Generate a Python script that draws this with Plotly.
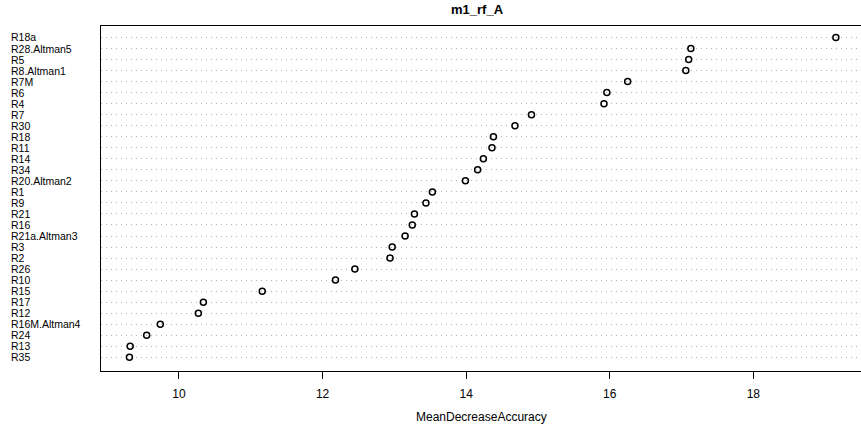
import plotly.graph_objects as go

# Variables ordered top to bottom as shown
labels = ["R18a", "R28.Altman5", "R5", "R8.Altman1", "R7M", "R6", "R4", "R7", "R30",
          "R18", "R11", "R14", "R34", "R20.Altman2", "R1", "R9", "R21", "R16",
          "R21a.Altman3", "R3", "R2", "R26", "R10", "R15", "R17", "R12",
          "R16M.Altman4", "R24", "R13", "R35"]
values = [19.15, 17.13, 17.10, 17.06, 16.25, 15.96, 15.92, 14.91, 14.68,
          14.38, 14.36, 14.24, 14.16, 13.99, 13.53, 13.44, 13.28, 13.25,
          13.15, 12.97, 12.94, 12.45, 12.18, 11.16, 10.34, 10.27,
          9.74, 9.55, 9.32, 9.31]
x_ticks = [10, 12, 14, 16, 18]
title_text = "m1_rf_A"
x_label = "MeanDecreaseAccuracy"

n = len(labels)
ypos = [n - i for i in range(n)]  # top row = n, bottom row = 1

W, H = 861, 425
ml, mr, mt, mb = 101, 0, 26, 54
font_family = "Liberation Sans, Arial, sans-serif"
plot_w = W - ml - mr
plot_h = H - mt - mb

fig = go.Figure()
fig.add_trace(go.Scatter(
    x=values, y=ypos, mode="markers",
    marker=dict(symbol="circle-open", size=6, color="black", line=dict(width=1.5, color="black")),
    showlegend=False, hoverinfo="x+text", text=labels,
))

annotations = []
for lab, y in zip(labels, ypos):
    annotations.append(dict(
        x=(9 - ml) / plot_w, xref="paper", y=y, yref="y",
        text=lab, showarrow=False, xanchor="left", yanchor="middle",
        font=dict(family=font_family, size=10.5, color="black"),
    ))
annotations.append(dict(
    x=0.495, xref="paper", y=1 + (mt - 10) / plot_h, yref="paper",
    text="<b>" + title_text + "</b>", showarrow=False, xanchor="center", yanchor="middle",
    font=dict(family=font_family, size=13, color="black"),
))
annotations.append(dict(
    x=0.5, xref="paper", y=-(417 - (H - mb)) / plot_h, yref="paper",
    text=x_label, showarrow=False, xanchor="center", yanchor="middle",
    font=dict(family=font_family, size=12, color="black"),
))

fig.update_layout(
    width=W, height=H,
    margin=dict(l=ml, r=mr, t=mt, b=mb, pad=0),
    paper_bgcolor="white", plot_bgcolor="white",
    font=dict(family=font_family, size=12, color="black"),
    annotations=annotations,
    xaxis=dict(
        range=[8.914, 19.50], tickmode="array", tickvals=x_ticks,
        ticktext=[str(t) for t in x_ticks],
        ticks="outside", ticklen=7, tickwidth=1, tickcolor="black",
        showline=True, linecolor="black", linewidth=1, mirror=True,
        showgrid=False, zeroline=False,
        tickfont=dict(family=font_family, size=12, color="black"),
        ticklabelstandoff=5,
    ),
    yaxis=dict(
        range=[-0.24, 31.04], tickmode="array", tickvals=ypos,
        showticklabels=False, ticks="",
        showline=True, linecolor="black", linewidth=1, mirror=False,
        showgrid=True, gridcolor="#b0b0b0", gridwidth=1, griddash="1px,4px",
        zeroline=False,
    ),
)

fig.write_html("out.html")
